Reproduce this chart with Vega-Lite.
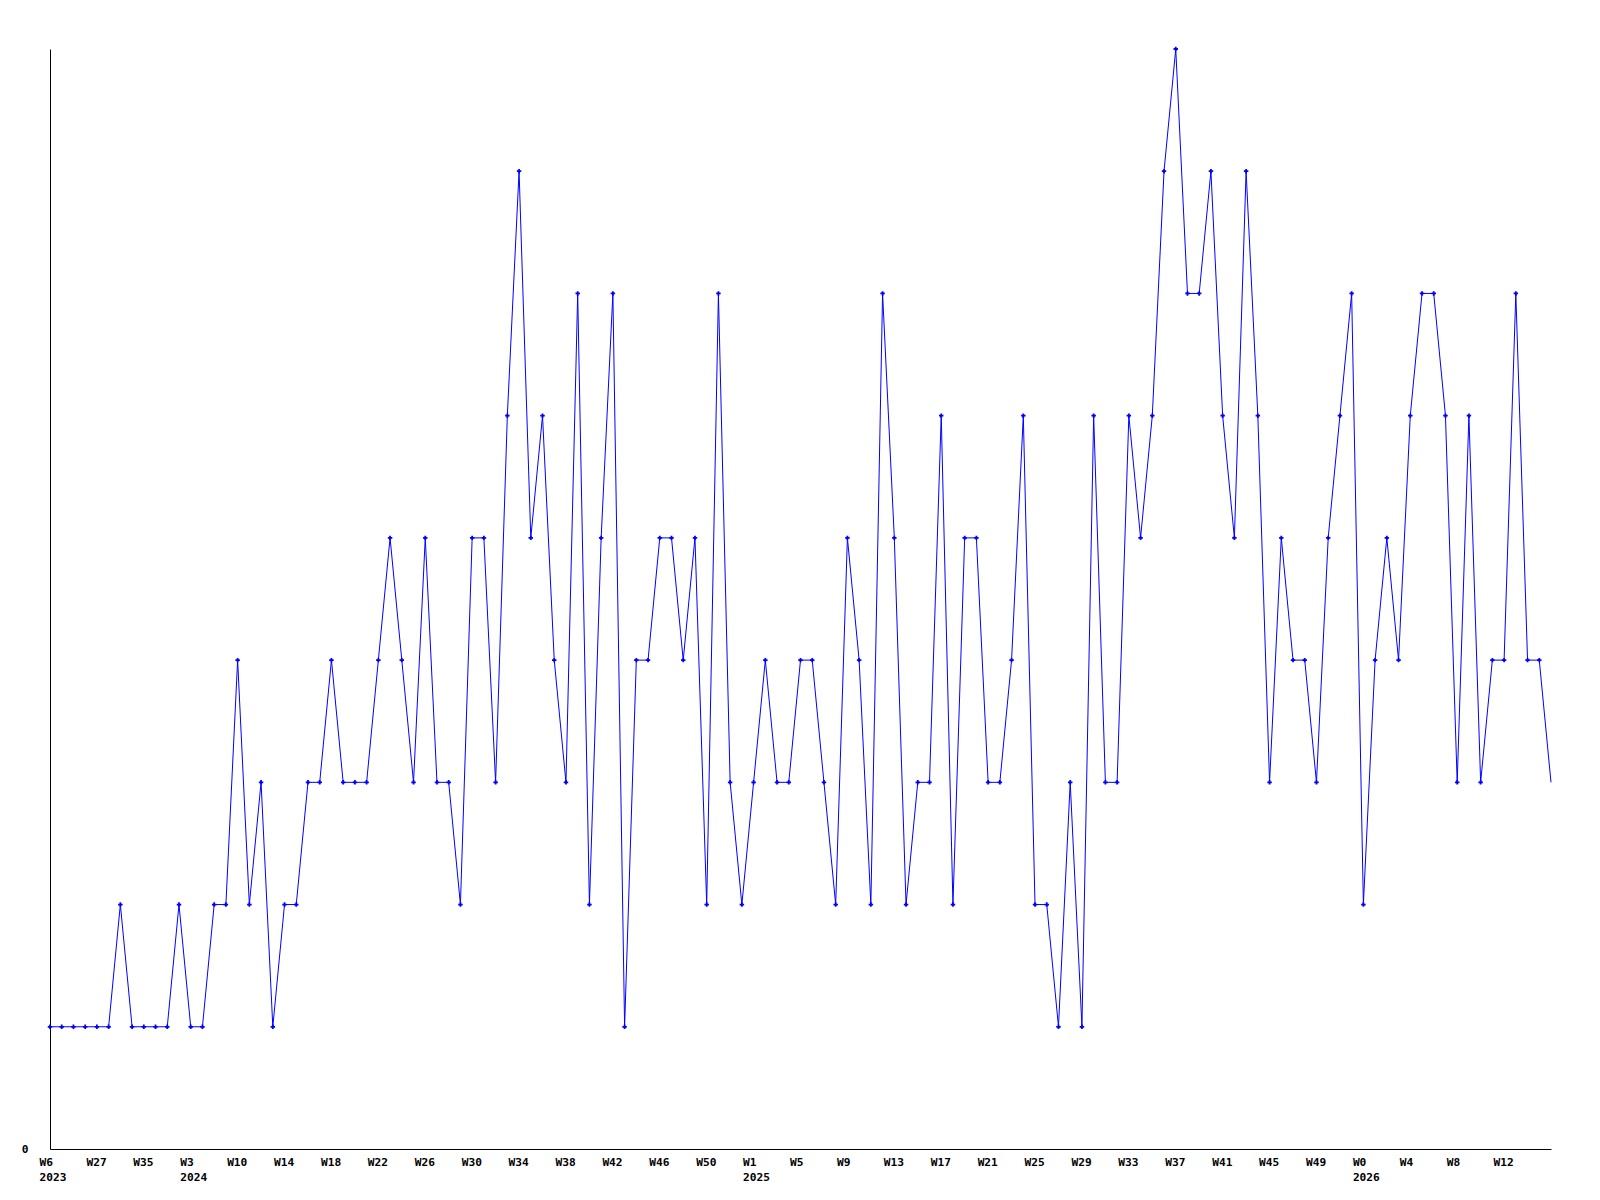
{
  "$schema": "https://vega.github.io/schema/vega-lite/v6.json",
  "width": 1501,
  "height": 1100,
  "autosize": {"type": "none"},
  "padding": {"left": 50, "top": 49, "right": 49, "bottom": 51},
  "background": "white",
  "config": {
    "view": {"stroke": null},
    "axis": {
      "labelFont": "DejaVu Sans Mono",
      "labelFontWeight": "bold",
      "labelFontSize": 11.2,
      "labelColor": "black",
      "domainColor": "black",
      "domainWidth": 1,
      "ticks": false,
      "grid": false,
      "title": null
    }
  },
  "data": {
    "values": [
      {"i": 0, "v": 1}, {"i": 1, "v": 1}, {"i": 2, "v": 1}, {"i": 3, "v": 1}, {"i": 4, "v": 1},
      {"i": 5, "v": 1}, {"i": 6, "v": 2}, {"i": 7, "v": 1}, {"i": 8, "v": 1}, {"i": 9, "v": 1},
      {"i": 10, "v": 1}, {"i": 11, "v": 2}, {"i": 12, "v": 1}, {"i": 13, "v": 1}, {"i": 14, "v": 2},
      {"i": 15, "v": 2}, {"i": 16, "v": 4}, {"i": 17, "v": 2}, {"i": 18, "v": 3}, {"i": 19, "v": 1},
      {"i": 20, "v": 2}, {"i": 21, "v": 2}, {"i": 22, "v": 3}, {"i": 23, "v": 3}, {"i": 24, "v": 4},
      {"i": 25, "v": 3}, {"i": 26, "v": 3}, {"i": 27, "v": 3}, {"i": 28, "v": 4}, {"i": 29, "v": 5},
      {"i": 30, "v": 4}, {"i": 31, "v": 3}, {"i": 32, "v": 5}, {"i": 33, "v": 3}, {"i": 34, "v": 3},
      {"i": 35, "v": 2}, {"i": 36, "v": 5}, {"i": 37, "v": 5}, {"i": 38, "v": 3}, {"i": 39, "v": 6},
      {"i": 40, "v": 8}, {"i": 41, "v": 5}, {"i": 42, "v": 6}, {"i": 43, "v": 4}, {"i": 44, "v": 3},
      {"i": 45, "v": 7}, {"i": 46, "v": 2}, {"i": 47, "v": 5}, {"i": 48, "v": 7}, {"i": 49, "v": 1},
      {"i": 50, "v": 4}, {"i": 51, "v": 4}, {"i": 52, "v": 5}, {"i": 53, "v": 5}, {"i": 54, "v": 4},
      {"i": 55, "v": 5}, {"i": 56, "v": 2}, {"i": 57, "v": 7}, {"i": 58, "v": 3}, {"i": 59, "v": 2},
      {"i": 60, "v": 3}, {"i": 61, "v": 4}, {"i": 62, "v": 3}, {"i": 63, "v": 3}, {"i": 64, "v": 4},
      {"i": 65, "v": 4}, {"i": 66, "v": 3}, {"i": 67, "v": 2}, {"i": 68, "v": 5}, {"i": 69, "v": 4},
      {"i": 70, "v": 2}, {"i": 71, "v": 7}, {"i": 72, "v": 5}, {"i": 73, "v": 2}, {"i": 74, "v": 3},
      {"i": 75, "v": 3}, {"i": 76, "v": 6}, {"i": 77, "v": 2}, {"i": 78, "v": 5}, {"i": 79, "v": 5},
      {"i": 80, "v": 3}, {"i": 81, "v": 3}, {"i": 82, "v": 4}, {"i": 83, "v": 6}, {"i": 84, "v": 2},
      {"i": 85, "v": 2}, {"i": 86, "v": 1}, {"i": 87, "v": 3}, {"i": 88, "v": 1}, {"i": 89, "v": 6},
      {"i": 90, "v": 3}, {"i": 91, "v": 3}, {"i": 92, "v": 6}, {"i": 93, "v": 5}, {"i": 94, "v": 6},
      {"i": 95, "v": 8}, {"i": 96, "v": 9}, {"i": 97, "v": 7}, {"i": 98, "v": 7}, {"i": 99, "v": 8},
      {"i": 100, "v": 6}, {"i": 101, "v": 5}, {"i": 102, "v": 8}, {"i": 103, "v": 6}, {"i": 104, "v": 3},
      {"i": 105, "v": 5}, {"i": 106, "v": 4}, {"i": 107, "v": 4}, {"i": 108, "v": 3}, {"i": 109, "v": 5},
      {"i": 110, "v": 6}, {"i": 111, "v": 7}, {"i": 112, "v": 2}, {"i": 113, "v": 4}, {"i": 114, "v": 5},
      {"i": 115, "v": 4}, {"i": 116, "v": 6}, {"i": 117, "v": 7}, {"i": 118, "v": 7}, {"i": 119, "v": 6},
      {"i": 120, "v": 3}, {"i": 121, "v": 6}, {"i": 122, "v": 3}, {"i": 123, "v": 4}, {"i": 124, "v": 4},
      {"i": 125, "v": 7}, {"i": 126, "v": 4}, {"i": 127, "v": 4}, {"i": 128, "v": 3}
    ]
  },
  "encoding": {
    "x": {
      "field": "i",
      "type": "quantitative",
      "scale": {"domain": [0, 128], "nice": false, "zero": false},
      "axis": {
        "values": [0, 4, 8, 12, 16, 20, 24, 28, 32, 36, 40, 44, 48, 52, 56, 60, 64, 68, 72, 76, 80, 84, 88, 92, 96, 100, 104, 108, 112, 116, 120, 124],
        "labelExpr": "[['W6','2023'],'W27','W35',['W3','2024'],'W10','W14','W18','W22','W26','W30','W34','W38','W42','W46','W50',['W1','2025'],'W5','W9','W13','W17','W21','W25','W29','W33','W37','W41','W45','W49',['W0','2026'],'W4','W8','W12'][round(datum.value/4)]",
        "labelAlign": "left",
        "labelOffset": -11,
        "labelPadding": 7,
        "labelLineHeight": 15,
        "labelFlush": false,
        "labelOverlap": false
      }
    },
    "y": {
      "field": "v",
      "type": "quantitative",
      "scale": {"domain": [0, 9], "nice": false},
      "axis": {"values": [0], "labelPadding": 22}
    }
  },
  "layer": [
    {"mark": {"type": "line", "color": "#0000ff", "strokeWidth": 1, "interpolate": "linear"}},
    {
      "transform": [{"filter": "datum.i < 128"}],
      "mark": {"type": "point", "shape": "cross", "filled": true, "color": "#0000ff", "size": 20, "opacity": 1}
    }
  ]
}
